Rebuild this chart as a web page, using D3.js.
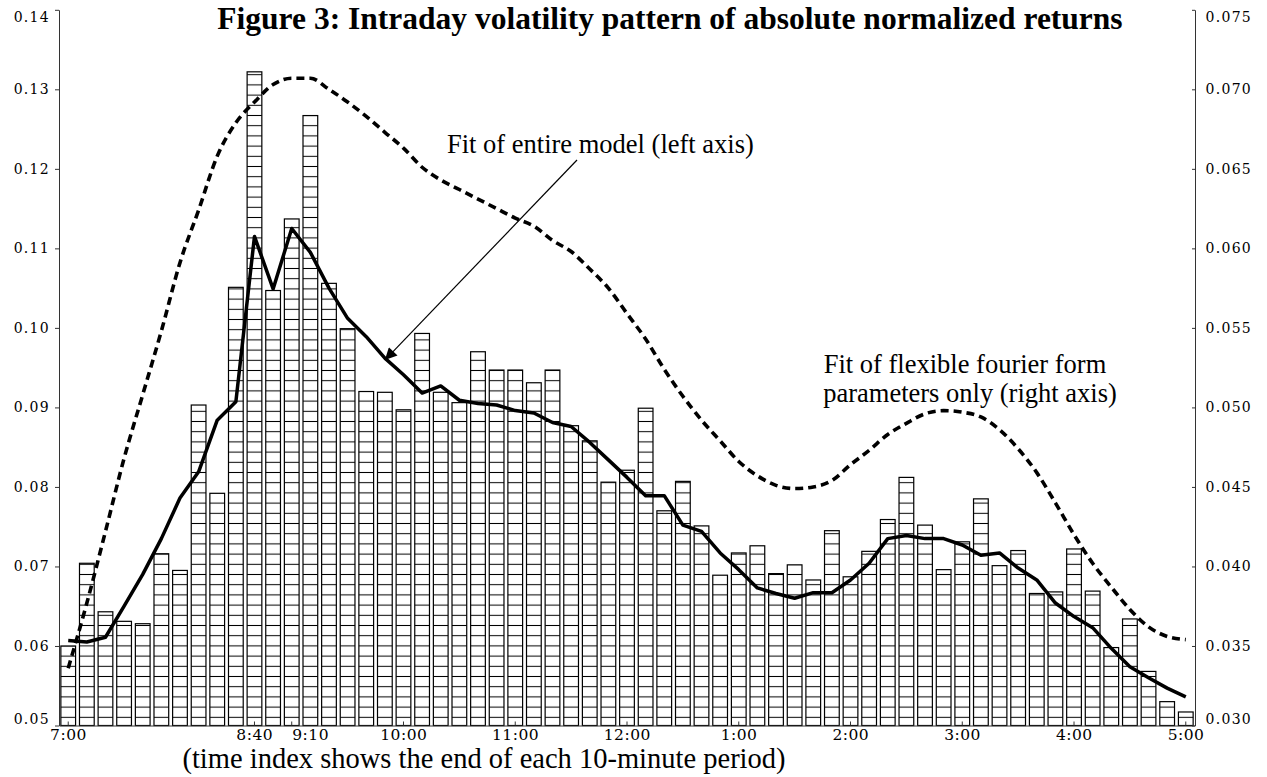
<!DOCTYPE html>
<html>
<head>
<meta charset="utf-8">
<script src="https://cdn.jsdelivr.net/npm/d3@7"></script>
<style>
  body { margin: 0; background: #fff; }
  svg { display: block; background: #fff; }
  .axis text { font-family: "DejaVu Serif", serif; font-size: 14px; letter-spacing: 1.3px; fill: #000; }
  .axis path, .axis line { stroke: #333; }
  .time-label { font-family: "DejaVu Serif", serif; font-size: 15.5px; letter-spacing: 0.5px; fill: #000; }
  .note { font-family: "Liberation Serif", "Times New Roman", serif; font-size: 26.5px; fill: #000; }
  .title { font-family: "Liberation Serif", "Times New Roman", serif; font-size: 31.5px; font-weight: bold; }
</style>
</head>
<body>
<svg id="chart" width="1267" height="777"></svg>
<script>
// mean absolute normalized returns per 10-minute period (left axis)
const absReturns = [
  0.0600, 0.0704, 0.0643, 0.0631, 0.0628, 0.0716, 0.0695, 0.0903, 0.0792, 0.1051,
  0.1322, 0.1047, 0.1137, 0.1267, 0.1056, 0.0999, 0.0920, 0.0919, 0.0897, 0.0993,
  0.0919, 0.0906, 0.0970, 0.0947, 0.0947, 0.0931, 0.0947, 0.0877, 0.0858, 0.0806,
  0.0821, 0.0899, 0.0770, 0.0807, 0.0751, 0.0689, 0.0717, 0.0726, 0.0691, 0.0702,
  0.0683, 0.0745, 0.0687, 0.0719, 0.0759, 0.0812, 0.0752, 0.0696, 0.0731, 0.0785,
  0.0701, 0.0720, 0.0666, 0.0668, 0.0722, 0.0669, 0.0598, 0.0634, 0.0568, 0.0530,
  0.0517,
];

// fit of entire model (left axis)
const modelFit = [
  0.0607, 0.0605, 0.0611, 0.0650, 0.0690, 0.0735, 0.0786, 0.0819, 0.0884, 0.0907,
  0.1115, 0.1049, 0.1125, 0.1095, 0.1050, 0.1012, 0.0989, 0.0962, 0.0941, 0.0918,
  0.0927, 0.0909, 0.0905, 0.0903, 0.0896, 0.0893, 0.0881, 0.0876, 0.0856, 0.0834,
  0.0812, 0.0789, 0.0789, 0.0752, 0.0744, 0.0717, 0.0696, 0.0673, 0.0666, 0.0660,
  0.0667, 0.0667, 0.0683, 0.0704, 0.0735, 0.0739, 0.0735, 0.0735, 0.0727, 0.0714,
  0.0717, 0.0698, 0.0683, 0.0654, 0.0637, 0.0623, 0.0597, 0.0574, 0.0560, 0.0547,
  0.0536,
];

// fit of flexible fourier form parameters only (right axis)
const fourierFit = [
  0.0336, 0.0377, 0.0422, 0.0468, 0.0508, 0.0548, 0.0591, 0.0624, 0.0658, 0.0679,
  0.0692, 0.0703, 0.0707, 0.0707, 0.0700, 0.0692, 0.0683, 0.0673, 0.0663, 0.0651,
  0.0643, 0.0637, 0.0631, 0.0625, 0.0619, 0.0614, 0.0605, 0.0598, 0.0587, 0.0575,
  0.0559, 0.0543, 0.0524, 0.0507, 0.0492, 0.0479, 0.0466, 0.0457, 0.0451, 0.0449,
  0.0450, 0.0454, 0.0464, 0.0473, 0.0483, 0.0490, 0.0496, 0.0498, 0.0497, 0.0494,
  0.0486, 0.0474, 0.0459, 0.0440, 0.0420, 0.0402, 0.0387, 0.0373, 0.0362, 0.0356,
  0.0354,
];

const timeLabels = ["7:00", "8:40", "9:10", "10:00", "11:00", "12:00", "1:00", "2:00", "3:00", "4:00", "5:00"];
const labelPeriods = [0, 10, 13, 18, 24, 30, 36, 42, 48, 54, 60];
const tickPeriods = [0, 10, 12, 18, 24, 30, 36, 42, 48, 54, 60];
const leftTicks = [0.05, 0.06, 0.07, 0.08, 0.09, 0.10, 0.11, 0.12, 0.13, 0.14];
const rightTicks = [0.030, 0.035, 0.040, 0.045, 0.050, 0.055, 0.060, 0.065, 0.070, 0.075];

const dims = { left: 59, right: 1195, top: 9.8, bottom: 725.5, hatchStep: 10.2 };

const svg = d3.select("#chart");

const x = d3
  .scaleBand()
  .domain(d3.range(absReturns.length))
  .range([dims.left, dims.right])
  .paddingInner(0.21)
  .paddingOuter(0.1);
const cx = (i) => x(i) + x.bandwidth() / 2;

const yLeft = d3.scaleLinear().domain([0.05, 0.14]).range([dims.bottom, dims.top]);
const yRight = d3.scaleLinear().domain([0.03, 0.075]).range([dims.bottom, dims.top]);

// horizontal hatch fill for the bars
const defs = svg.append("defs");
const hatch = defs
  .append("pattern")
  .attr("id", "hatch")
  .attr("patternUnits", "userSpaceOnUse")
  .attr("width", 20)
  .attr("height", dims.hatchStep)
  .attr("y", (dims.bottom - 8.2 - dims.hatchStep / 2) % dims.hatchStep);
hatch.append("rect").attr("width", 20).attr("height", dims.hatchStep).attr("fill", "#fff");
hatch
  .append("line")
  .attr("x1", 0)
  .attr("x2", 20)
  .attr("y1", dims.hatchStep / 2)
  .attr("y2", dims.hatchStep / 2)
  .attr("stroke", "#000")
  .attr("stroke-width", 1);

defs
  .append("marker")
  .attr("id", "arrow")
  .attr("viewBox", "0 0 10 10")
  .attr("refX", 10)
  .attr("refY", 5)
  .attr("markerUnits", "userSpaceOnUse")
  .attr("markerWidth", 17)
  .attr("markerHeight", 12)
  .attr("orient", "auto")
  .append("path")
  .attr("d", "M0,0L10,5L0,10z")
  .attr("fill", "#000");

// bars
svg
  .append("g")
  .selectAll("rect")
  .data(absReturns)
  .join("rect")
  .attr("x", (d, i) => x(i))
  .attr("width", x.bandwidth())
  .attr("y", (d) => yLeft(d))
  .attr("height", (d) => yLeft(0.05) - yLeft(d))
  .attr("fill", "url(#hatch)")
  .attr("stroke", "#000")
  .attr("stroke-width", 1.2);

// axes
const leftAxis = svg
  .append("g")
  .attr("class", "axis")
  .attr("transform", `translate(${dims.left},0)`)
  .call(
    d3.axisLeft(yLeft).tickValues(leftTicks).tickFormat(d3.format(".2f")).tickSize(4).tickSizeOuter(0).tickPadding(5)
  );

const rightAxis = svg
  .append("g")
  .attr("class", "axis")
  .attr("transform", `translate(${dims.right},0)`)
  .call(
    d3.axisRight(yRight).tickValues(rightTicks).tickFormat(d3.format(".3f")).tickSize(-3).tickSizeOuter(0).tickPadding(10.5)
  );

// end labels sit inside the frame
[leftAxis, rightAxis].forEach((g) => {
  const texts = g.selectAll(".tick text");
  texts.filter((d, i) => i === 0).attr("dy", "-0.12em");
  texts.filter((d, i, n) => i === n.length - 1).attr("dy", "0.8em");
});

svg
  .append("g")
  .attr("class", "axis")
  .attr("transform", `translate(0,${dims.bottom})`)
  .call(d3.axisBottom(x).tickValues(tickPeriods).tickFormat("").tickSize(-4).tickSizeOuter(0));

svg
  .append("g")
  .selectAll("text")
  .data(timeLabels)
  .join("text")
  .attr("class", "time-label")
  .attr("text-anchor", "middle")
  .attr("x", (d, i) => cx(labelPeriods[i]) + 0.3)
  .attr("y", dims.bottom + 14.5)
  .text((d) => d);

// fitted lines
svg
  .append("path")
  .datum(fourierFit)
  .attr("fill", "none")
  .attr("stroke", "#000")
  .attr("stroke-width", 3.6)
  .attr("stroke-dasharray", "8,5")
  .attr(
    "d",
    d3
      .line()
      .x((d, i) => cx(i))
      .y((d) => yRight(d))
      .curve(d3.curveMonotoneX)
  );

svg
  .append("path")
  .datum(modelFit)
  .attr("fill", "none")
  .attr("stroke", "#000")
  .attr("stroke-width", 3.5)
  .attr("stroke-linejoin", "round")
  .attr(
    "d",
    d3
      .line()
      .x((d, i) => cx(i))
      .y((d) => yLeft(d))
  );

// annotations
svg
  .append("line")
  .attr("x1", 577)
  .attr("y1", 160)
  .attr("x2", cx(17))
  .attr("y2", yLeft(modelFit[17]) + 2)
  .attr("stroke", "#000")
  .attr("stroke-width", 1.2)
  .attr("marker-end", "url(#arrow)");

svg.append("text").attr("class", "note").attr("x", 447).attr("y", 152.5).text("Fit of entire model (left axis)");

svg
  .append("text")
  .attr("class", "note")
  .attr("text-anchor", "middle")
  .attr("y", 373)
  .call((t) => t.append("tspan").attr("x", 965).text("Fit of flexible fourier form"))
  .call((t) => t.append("tspan").attr("x", 970).attr("dy", 28.5).text("parameters only (right axis)"));

svg
  .append("text")
  .attr("class", "title")
  .attr("text-anchor", "middle")
  .attr("x", 670)
  .attr("y", 29)
  .text("Figure 3: Intraday volatility pattern of absolute normalized returns");

svg
  .append("text")
  .attr("class", "note")
  .style("font-size", "28.5px")
  .attr("text-anchor", "middle")
  .attr("x", 484)
  .attr("y", 768)
  .text("(time index shows the end of each 10-minute period)");
</script>
</body>
</html>
